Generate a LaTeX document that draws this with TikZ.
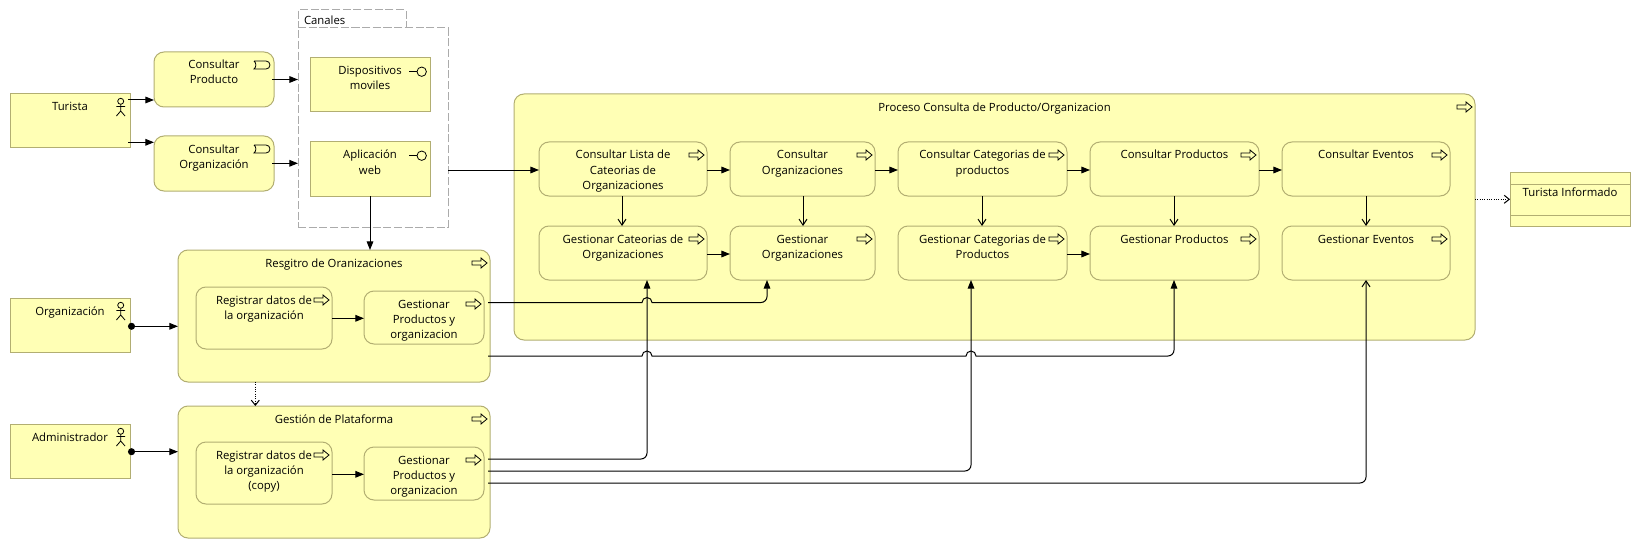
\documentclass[tikz,border=0pt]{standalone}
\usepackage{fontspec}
\setmainfont{Open Sans}
\usetikzlibrary{arrows.meta}

\newlength{\pxu}
\setlength{\pxu}{0.75pt}
\definecolor{elemfill}{HTML}{FFFFB5}
\definecolor{elemline}{HTML}{B2AE72}
\definecolor{grpline}{HTML}{ABABAB}
% box of fixed size with its text at the top
\newcommand{\etxt}[4][6.5]{\parbox[c][#3\pxu][t]{#2\pxu}{\centering\fontsize{8.5}{11.25}\selectfont\vspace*{#1\pxu}\strut #4\strut}}

\tikzset{
	actoricon/.pic={
		\draw[black,line width=.6pt] (-9.3,7.3) circle[radius=3];
		\draw[black,line width=.6pt] (-9.3,10.3) -- (-9.3,17) (-13.6,12.5) -- (-5,12.5) (-13.6,22) -- (-9.3,17) -- (-5,22);
	},
	servicon/.pic={
		\draw[black,line width=.6pt] (-20,9) -- (-8,9) arc[start angle=-90,end angle=90,radius=4] -- (-20,17) .. controls (-17.5,15) and (-17.5,11) .. (-20,9);
	},
	intficon/.pic={
		\draw[black,line width=.6pt] (-20.7,13.7) -- (-13,13.7);
		\draw[black,line width=.6pt] (-8.3,13.7) circle[radius=4.7];
	},
	procicon/.pic={
		\draw[black,line width=.6pt] (-18,11) -- (-9,11) -- (-9,8) -- (-3,13) -- (-9,18) -- (-9,15) -- (-18,15) -- cycle;
	}
}

\begin{document}
\begin{tikzpicture}[x=0.75pt,y=-0.75pt,line width=0.75pt,
	elem/.style={draw=elemline,fill=elemfill,inner sep=0pt,outer sep=0pt,anchor=north west},
	proc/.style={elem,rounded corners=7.5pt},
	grp/.style={draw=grpline,fill=white,dash pattern=on 6pt off 2pt,inner sep=0pt,outer sep=0pt,anchor=north west},
	conn/.style={draw=black,-{Triangle[length=6.5pt,width=5pt]}},
	flow/.style={draw=black,-{Straight Barb[length=4.5pt,width=6pt]}},
	trig/.style={draw=black,densely dotted,-{Straight Barb[length=3.75pt,width=6pt]}},
	assign/.style={draw=black,{Circle[length=5.25pt]}-{Triangle[length=6.5pt,width=5pt]}}]
	\useasboundingbox (0,0) rectangle (1640,549);

	% actores
	\node[elem] (turista) at (10,94) {\etxt{120}{54}{Turista}};
	\node[elem] (organizacion) at (10,298) {\etxt{120}{54}{Organización}};
	\node[elem] (administrador) at (10,424) {\etxt{120}{54}{Administrador}};

	% servicios
	\node[proc] (consprod) at (154,52) {\etxt{120}{55}{Consultar\\Producto}};
	\node[proc] (consorgn) at (154,136) {\etxt{120}{55}{Consultar\\Organización}};

	% canales
	\node[grp,minimum width=108\pxu,minimum height=18\pxu] (canalestab) at (298,10) {};
	\node[grp,minimum width=150\pxu,minimum height=199\pxu] (canales) at (298,28) {};
	\node[anchor=west,inner sep=0pt,font=\fontsize{8.5}{11.25}\selectfont] (canalestxt) at (303.5,20) {Canales};
	\node[elem] (dispositivos) at (310,58) {\etxt{120}{54}{Dispositivos\\moviles}};
	\node[elem] (aplicacion) at (310,142) {\etxt{120}{54}{Aplicación\\web}};

	% procesos grandes
	\node[proc] (registro) at (178,250) {\etxt{312}{132}{Resgitro de Oranizaciones}};
	\node[proc] (gestion) at (178,406) {\etxt{312}{132}{Gestión de Plataforma}};
	\node[proc] (proceso) at (514,94) {\etxt{961}{246}{Proceso Consulta de Producto/Organizacion}};

	\node[proc] (regdatos) at (196,287) {\etxt{136}{62}{Registrar datos de\\la organización}};
	\node[proc] (gestpo) at (364,291) {\etxt{120}{53}{Gestionar\\Productos y\\organizacion}};
	\node[proc] (regcopy) at (196,442) {\etxt{136}{62}{Registrar datos de\\la organización\\(copy)}};
	\node[proc] (gestpb) at (364,447) {\etxt{120}{53}{Gestionar\\Productos y\\organizacion}};

	\node[proc] (conslista) at (539,142) {\etxt{168}{54}{Consultar Lista de\\Cateorias de\\Organizaciones}};
	\node[proc] (consorgs) at (730,142) {\etxt{145}{54}{Consultar\\Organizaciones}};
	\node[proc] (conscat) at (898,142) {\etxt{169}{54}{Consultar Categorias de\\productos}};
	\node[proc] (consprods) at (1090,142) {\etxt{169}{54}{Consultar Productos}};
	\node[proc] (consev) at (1282,142) {\etxt{168}{54}{Consultar Eventos}};
	\node[proc] (gestlista) at (539,226) {\etxt{168}{54}{Gestionar Cateorias de\\Organizaciones}};
	\node[proc] (gestorgs) at (730,226) {\etxt{145}{54}{Gestionar\\Organizaciones}};
	\node[proc] (gestcat) at (898,226) {\etxt{169}{54}{Gestionar Categorias de\\Productos}};
	\node[proc] (gestprods) at (1090,226) {\etxt{169}{54}{Gestionar Productos}};
	\node[proc] (gestev) at (1282,226) {\etxt{168}{54}{Gestionar Eventos}};

	% resultado
	\node[elem] (informado) at (1510,172) {\etxt[13.5]{120}{54}{Turista Informado}};
	\draw[elemline] (informado.west |- 0,184) -- (informado.east |- 0,184);
	\draw[elemline] (informado.west |- 0,215) -- (informado.east |- 0,215);

	% iconos
	\foreach \n in {turista,organizacion,administrador}
		\pic at (\n.north east) {actoricon};
	\foreach \n in {consprod,consorgn}
		\pic at (\n.north east) {servicon};
	\foreach \n in {dispositivos,aplicacion}
		\pic at (\n.north east) {intficon};
	\foreach \n in {registro,gestion,proceso,regdatos,gestpo,regcopy,gestpb,conslista,consorgs,conscat,consprods,consev,gestlista,gestorgs,gestcat,gestprods,gestev}
		\pic at (\n.north east) {procicon};

	% conexiones de la izquierda
	\draw[conn] (128,100) -- (consprod.west |- 128,100);
	\draw[conn] (128,142.3) -- (consorgn.west |- 128,142.3);
	\draw[conn] (272,79.5) -- (canales.west |- 272,79.5);
	\draw[conn] (272,163.3) -- (canales.west |- 272,163.3);
	\draw[conn] (aplicacion.south) -- (registro.north -| aplicacion.south);
	\draw[assign] (128,326.3) -- (registro.west |- 128,326.3);
	\draw[assign] (128,451.7) -- (gestion.west |- 128,451.7);
	\draw[conn] (regdatos.east |- 0,318.3) -- (gestpo.west |- 0,318.3);
	\draw[conn] (regcopy.east |- 0,474.3) -- (gestpb.west |- 0,474.3);
	\draw[trig] (registro.south -| 255.3,0) -- (gestion.north -| 255.3,0);

	% primera y segunda fila
	\draw[conn] (canales.east |- 0,170) -- (conslista.west |- 0,170);
	\draw[conn] (conslista.east |- 0,170) -- (consorgs.west |- 0,170);
	\draw[conn] (consorgs.east |- 0,170) -- (conscat.west |- 0,170);
	\draw[conn] (conscat.east |- 0,170) -- (consprods.west |- 0,170);
	\draw[conn] (consprods.east |- 0,170) -- (consev.west |- 0,170);
	\draw[conn] (gestlista.east |- 0,254) -- (gestorgs.west |- 0,254);
	\draw[conn] (gestcat.east |- 0,254) -- (gestprods.west |- 0,254);
	\draw[flow] (conslista.south -| 622,0) -- (gestlista.north -| 622,0);
	\draw[flow] (consorgs.south -| 803,0) -- (gestorgs.north -| 803,0);
	\draw[flow] (conscat.south -| 982,0) -- (gestcat.north -| 982,0);
	\draw[flow] (consprods.south -| 1174,0) -- (gestprods.north -| 1174,0);
	\draw[flow] (consev.south) -- (gestev.north);
	\draw[trig] (proceso.east |- 0,199.3) -- (informado.west |- 0,199.3);

	% conexiones largas con saltos
	\draw[conn] (488,302.5) -- (642,302.5) arc[start angle=180,end angle=360,radius=5] -- (700,302.5) [rounded corners=4.5pt] -- (767,302.5) -- (gestorgs.south -| 767,0);
	\draw[conn] (488,356) -- (642,356) arc[start angle=180,end angle=360,radius=5] -- (966,356) arc[start angle=180,end angle=360,radius=5] -- (1100,356) [rounded corners=4.5pt] -- (1174,356) -- (gestprods.south -| 1174,0);
	\draw[conn,rounded corners=4.5pt] (488,459) -- (647,459) -- (gestlista.south -| 647,0);
	\draw[conn,rounded corners=4.5pt] (488,471) -- (971,471) -- (gestcat.south -| 971,0);
	\draw[flow,rounded corners=4.5pt] (488,483) -- (1366,483) -- (gestev.south);
\end{tikzpicture}
\end{document}
